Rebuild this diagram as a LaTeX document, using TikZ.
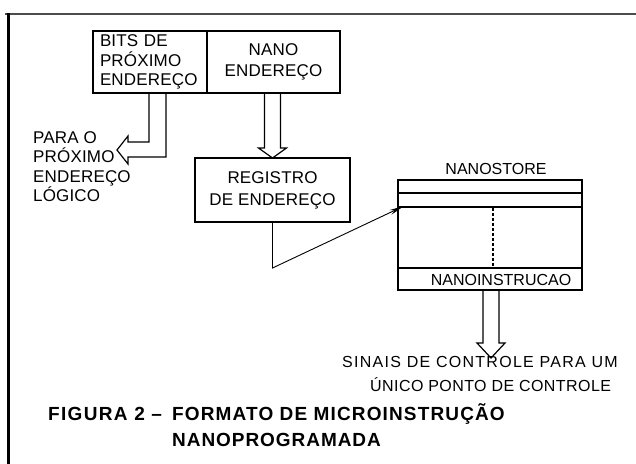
\documentclass[tikz,border=0pt]{standalone}
\usepackage{fontspec}
\setmainfont{Liberation Sans}
\usetikzlibrary{calc,arrows.meta}
\begin{document}
\begin{tikzpicture}[x=1pt,y=-1pt,
  thickbox/.style={draw, line width=1.7pt, inner sep=0pt, outer sep=0pt},
  lbl/.style={font=\fontsize{17}{19.5}\selectfont\addfontfeature{LetterSpace=1}},
  blockarrow/.style={draw, line width=1.2pt, line join=miter},
  cell/.style={line width=1.1pt},
  small/.style={font=\fontsize{16}{18}\selectfont\addfontfeature{LetterSpace=#1}, inner sep=0pt},
  caption/.style={font=\fontsize{19}{22}\selectfont\bfseries\addfontfeature{LetterSpace=#1}, inner sep=0pt}
]
\useasboundingbox (0,0) rectangle (636,463);
% frame
\draw[line width=2pt, black!70] (5,14) -- (640,14);
\draw[line width=3pt] (8,13) -- (8,470);

% top boxes
\node[thickbox, lbl, minimum width=114pt, minimum height=62pt, text width=100pt, align=left] (bits) at (150,62) {BITS DE\\PRÓXIMO\\ENDEREÇO};
\node[thickbox, minimum width=133pt, minimum height=62pt, align=center,
      font=\fontsize{17}{21}\selectfont\addfontfeature{LetterSpace=1}] (nano) at (273.5,62) {NANO\\ENDEREÇO};

% registro
\node[thickbox, minimum width=155pt, minimum height=64pt, align=center,
      font=\fontsize{17}{22}\selectfont\addfontfeature{LetterSpace=1}] (reg) at (272.5,190) {REGISTRO\\DE ENDEREÇO};

% left label
\node[lbl, inner sep=0pt, anchor=north west, align=left] (para) at (33,131) {PARA O\\PRÓXIMO\\ENDEREÇO\\LÓGICO};

% bits arrow
\coordinate (ptip) at (117,150);
\draw[blockarrow] ($(bits.south)+(-1,0)$) -- ($(bits.south)+(-1,49)$) -- ($(ptip)+(11,-8)$)
  -- ($(ptip)+(11,-14)$) -- (ptip) -- ($(ptip)+(11,14)$) -- ($(ptip)+(11,7)$)
  -- ($(bits.south)+(16,64)$) -- ($(bits.south)+(16,0)$);

% nano arrow
\draw[blockarrow] ($(reg.north |- nano.south)+(-8,0)$) -- ($(reg.north)+(-8,-10)$) -- ($(reg.north)+(-14,-10)$)
  -- (reg.north) -- ($(reg.north)+(14,-10)$) -- ($(reg.north)+(8,-10)$) -- ($(reg.north |- nano.south)+(8,0)$);

% nanostore
\node[draw, line width=1.2pt, minimum width=184pt, minimum height=110pt, inner sep=0pt, outer sep=0pt] (ns) at (490,235) {};
\draw[cell] ($(ns.north west)+(0,13)$) -- ($(ns.north east)+(0,13)$);
\draw[cell] ($(ns.north west)+(0,27)$) -- ($(ns.north east)+(0,27)$);
\draw[cell] ($(ns.north west)+(0,88)$) -- ($(ns.north east)+(0,88)$);
\draw[line width=1.1pt, dash pattern=on 3pt off 2pt] ($(ns.north west)+(95,28)$) -- ($(ns.north west)+(95,86)$);
\node[inner sep=0pt, anchor=base, font=\fontsize{16}{18}\selectfont] (nslabel) at (496,174) {NANOSTORE};
\node[inner sep=0pt, anchor=base, font=\fontsize{16}{18}\selectfont] (ni) at (501,285) {NANOINSTRUCAO};

% address arrow
\coordinate (bend) at (272.5,268);
\draw[line width=0.9pt, -{Stealth[length=15pt,width=5pt]}] (reg.south) -- (bend) -- ($(ns.north west)+(6,26)$);

% output arrow
\coordinate (stip) at (491,358);
\draw[blockarrow] ($(stip |- ns.south)+(-8,0)$) -- ($(stip)+(-8,-15)$) -- ($(stip)+(-14,-15)$)
  -- (stip) -- ($(stip)+(14,-15)$) -- ($(stip)+(8,-15)$) -- ($(stip |- ns.south)+(8,0)$);

% bottom texts
\node[small=8, anchor=base west] (sig1) at (342,367) {SINAIS DE CONTROLE PARA UM};
\node[small=2.7, anchor=base west] (sig2) at (370,391) {ÚNICO PONTO DE CONTROLE};
\node[caption=6, anchor=base west] (cap1) at (48,420) {\makebox[124pt][l]{\addfontfeature{LetterSpace=7}FIGURA 2 –}FORMATO DE MICROINSTRUÇÃO};
\node[caption=5, anchor=base west] (cap2) at (172,446) {NANOPROGRAMADA};
\end{tikzpicture}
\end{document}
